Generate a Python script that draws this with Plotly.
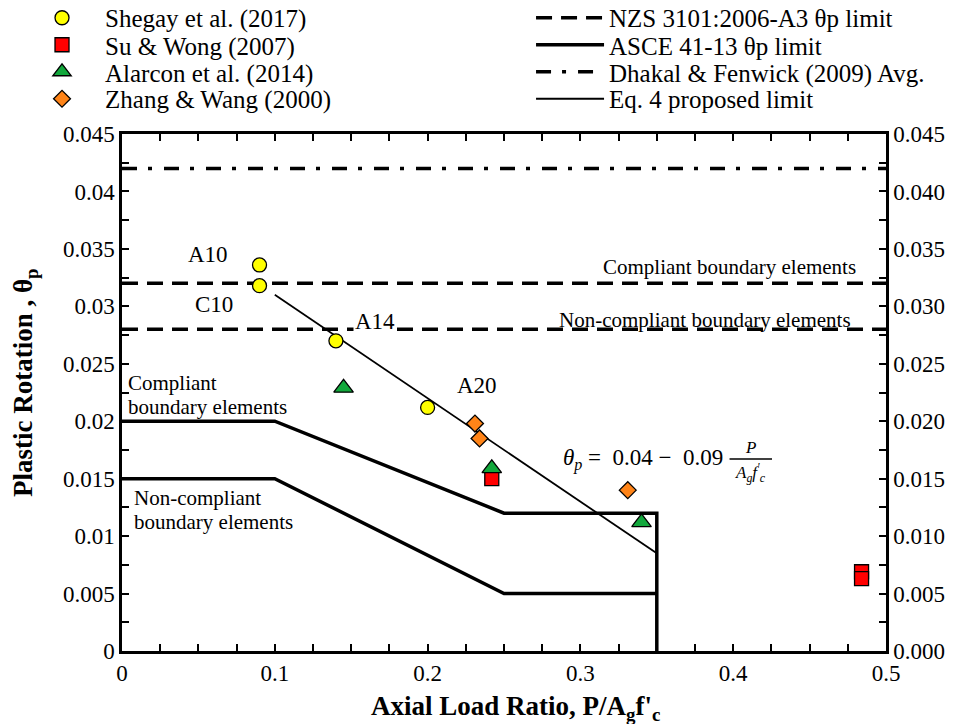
import plotly.graph_objects as go

# ---------------- data ----------------
shegay_x = [0.09, 0.09, 0.14, 0.20]
shegay_y = [0.0336, 0.0318, 0.0270, 0.0212]

su_x = [0.242, 0.484, 0.484]
su_y = [0.0150, 0.0069, 0.0063]

alarcon_x = [0.145, 0.242, 0.340]
alarcon_y = [0.0229, 0.0159, 0.0112]

zhang_x = [0.231, 0.234, 0.331]
zhang_y = [0.0198, 0.0185, 0.0140]

nzs_x = [0.0, 0.5, None, 0.0, 0.5]
nzs_y = [0.032, 0.032, None, 0.028, 0.028]

asce_x = [0.0, 0.1, 0.25, 0.35, 0.35, None, 0.0, 0.1, 0.25, 0.35]
asce_y = [0.020, 0.020, 0.012, 0.012, 0.0, None, 0.015, 0.015, 0.005, 0.005]

dhakal_x = [0.0, 0.5]
dhakal_y = [0.042, 0.042]

eq4_x = [0.10, 0.35]
eq4_y = [0.031, 0.0085]

x_ticks = [0, 0.1, 0.2, 0.3, 0.4, 0.5]

SERIF = "Times New Roman, Liberation Serif, DejaVu Serif, serif"

fig = go.Figure()

# ---------------- lines ----------------
fig.add_trace(go.Scatter(x=nzs_x, y=nzs_y, mode="lines", name="NZS 3101:2006-A3 θp limit",
                         line=dict(color="black", width=3.5, dash="16px,9px"), legend="legend5"))
fig.add_trace(go.Scatter(x=asce_x, y=asce_y, mode="lines", name="ASCE 41-13 θp limit",
                         line=dict(color="black", width=3.5), legend="legend6"))
fig.add_trace(go.Scatter(x=dhakal_x, y=dhakal_y, mode="lines", name="Dhakal &amp; Fenwick (2009) Avg.",
                         line=dict(color="black", width=3.5, dash="15px,11px,4px,12px"), legend="legend7"))
fig.add_trace(go.Scatter(x=eq4_x, y=eq4_y, mode="lines", name="Eq. 4 proposed limit",
                         line=dict(color="black", width=1.8), legend="legend8"))

# ---------------- markers ----------------
mline = dict(color="black", width=1.3)
fig.add_trace(go.Scatter(x=shegay_x, y=shegay_y, mode="markers", name="Shegay et al. (2017)",
                         marker=dict(symbol="circle", size=14, color="#FFFF00", line=mline), legend="legend"))
fig.add_trace(go.Scatter(x=su_x, y=su_y, mode="markers", name="Su &amp; Wong (2007)",
                         marker=dict(symbol="square", size=14, color="#FF0000", line=mline), legend="legend2"))
fig.add_trace(go.Scatter(x=alarcon_x, y=alarcon_y, mode="markers", name="Alarcon et al. (2014)",
                         marker=dict(symbol="triangle-up", size=17, color="#12A83C", line=mline), legend="legend3"))
fig.add_trace(go.Scatter(x=zhang_x, y=zhang_y, mode="markers", name="Zhang &amp; Wang (2000)",
                         marker=dict(symbol="diamond", size=13, color="#FF8418", line=mline), legend="legend4"))

# dummy trace to activate right axis
fig.add_trace(go.Scatter(x=[None], y=[None], yaxis="y2", showlegend=False, hoverinfo="skip"))

tick_font = dict(family=SERIF, size=23, color="black")
axis_common = dict(showgrid=False, zeroline=False, showline=True, linecolor="black", linewidth=2.5,
                   ticks="inside", ticklen=7, tickwidth=2, tickcolor="black", tickfont=tick_font)

row_y = [1.2244, 1.1721, 1.1199, 1.0677]
leg_font = dict(family=SERIF, size=25, color="black")
legends = {}
for i, yy in enumerate(row_y):
    key = "legend" if i == 0 else f"legend{i + 1}"
    legends[key] = dict(x=-0.1348, y=yy, xanchor="left", yanchor="middle", bgcolor="rgba(0,0,0,0)",
                        font=leg_font, itemwidth=76)
    legends[f"legend{i + 5}"] = dict(x=0.5354, y=yy, xanchor="left", yanchor="middle",
                                     bgcolor="rgba(0,0,0,0)", font=leg_font, itemwidth=68)

fig.update_layout(
    width=958, height=724,
    margin=dict(l=122, r=72, t=134, b=73, autoexpand=False),
    plot_bgcolor="white", paper_bgcolor="white",
    font=dict(family=SERIF, color="black"),
    xaxis=dict(range=[0, 0.5], tickvals=x_ticks, ticktext=[str(v) for v in x_ticks],
               mirror="ticks",
               minor=dict(dtick=0.025, ticks="inside", ticklen=7, tickwidth=2, tickcolor="black"),
               **axis_common),
    yaxis=dict(range=[0, 0.045], dtick=0.005, tick0=0,
               minor=dict(dtick=0.0025, ticks="inside", ticklen=7, tickwidth=2, tickcolor="black"),
               **axis_common),
    yaxis2=dict(range=[0, 0.045], dtick=0.005, tick0=0, overlaying="y", side="right",
                tickformat=".3f",
                minor=dict(dtick=0.0025, ticks="inside", ticklen=7, tickwidth=2, tickcolor="black"),
                **axis_common),
    showlegend=True,
    **legends,
)

# ---------------- annotations ----------------
def ann(text, x, y, size=21, xanchor="center", **kw):
    fig.add_annotation(text=text, x=x, y=y, xref="x", yref="y", showarrow=False,
                       xanchor=xanchor, yanchor="middle",
                       font=dict(family=SERIF, size=size, color="black"), **kw)

ann("A10", 0.0563, 0.03447, size=23)
ann("C10", 0.0602, 0.03012, size=23)
ann("A14", 0.1656, 0.02864, size=23, bgcolor="white")
ann("A20", 0.2323, 0.02315, size=23)

ann("Compliant", 0.0026, 0.02333, xanchor="left")
ann("boundary elements", 0.0026, 0.02124, xanchor="left")
ann("Non-compliant", 0.0065, 0.01332, xanchor="left")
ann("boundary elements", 0.0065, 0.01123, xanchor="left")
ann("Compliant boundary elements", 0.4817, 0.03342, xanchor="right")
ann("Non-compliant boundary elements", 0.4784, 0.02881, xanchor="right")

# equation
ann("<i>θ<sub>p</sub></i> =  0.04 −  0.09", 0.3946, 0.01671, size=23, xanchor="right")
ann("<i>P</i>", 0.4116, 0.01775, size=17)
ann("<i>A<sub>g</sub>f<sup>'</sup><sub>c</sub></i>", 0.4116, 0.0155, size=17)
fig.add_shape(type="line", x0=0.3976, x1=0.4254, y0=0.01671, y1=0.01671, xref="x", yref="y",
              line=dict(color="black", width=1.5))

# axis titles
fig.add_annotation(text="<b>Axial Load Ratio, P/A<sub>g</sub>f'<sub>c</sub></b>", x=0.5144, y=-0.11,
                   xref="paper", yref="paper", showarrow=False, xanchor="center", yanchor="middle",
                   font=dict(family=SERIF, size=27, color="black"))
fig.add_annotation(text="<b>Plastic Rotation , θ<sub>p</sub></b>", x=-0.127, y=0.5203,
                   xref="paper", yref="paper", showarrow=False, xanchor="center", yanchor="middle",
                   textangle=-90, font=dict(family=SERIF, size=27, color="black"))

fig.write_html("out.html")
